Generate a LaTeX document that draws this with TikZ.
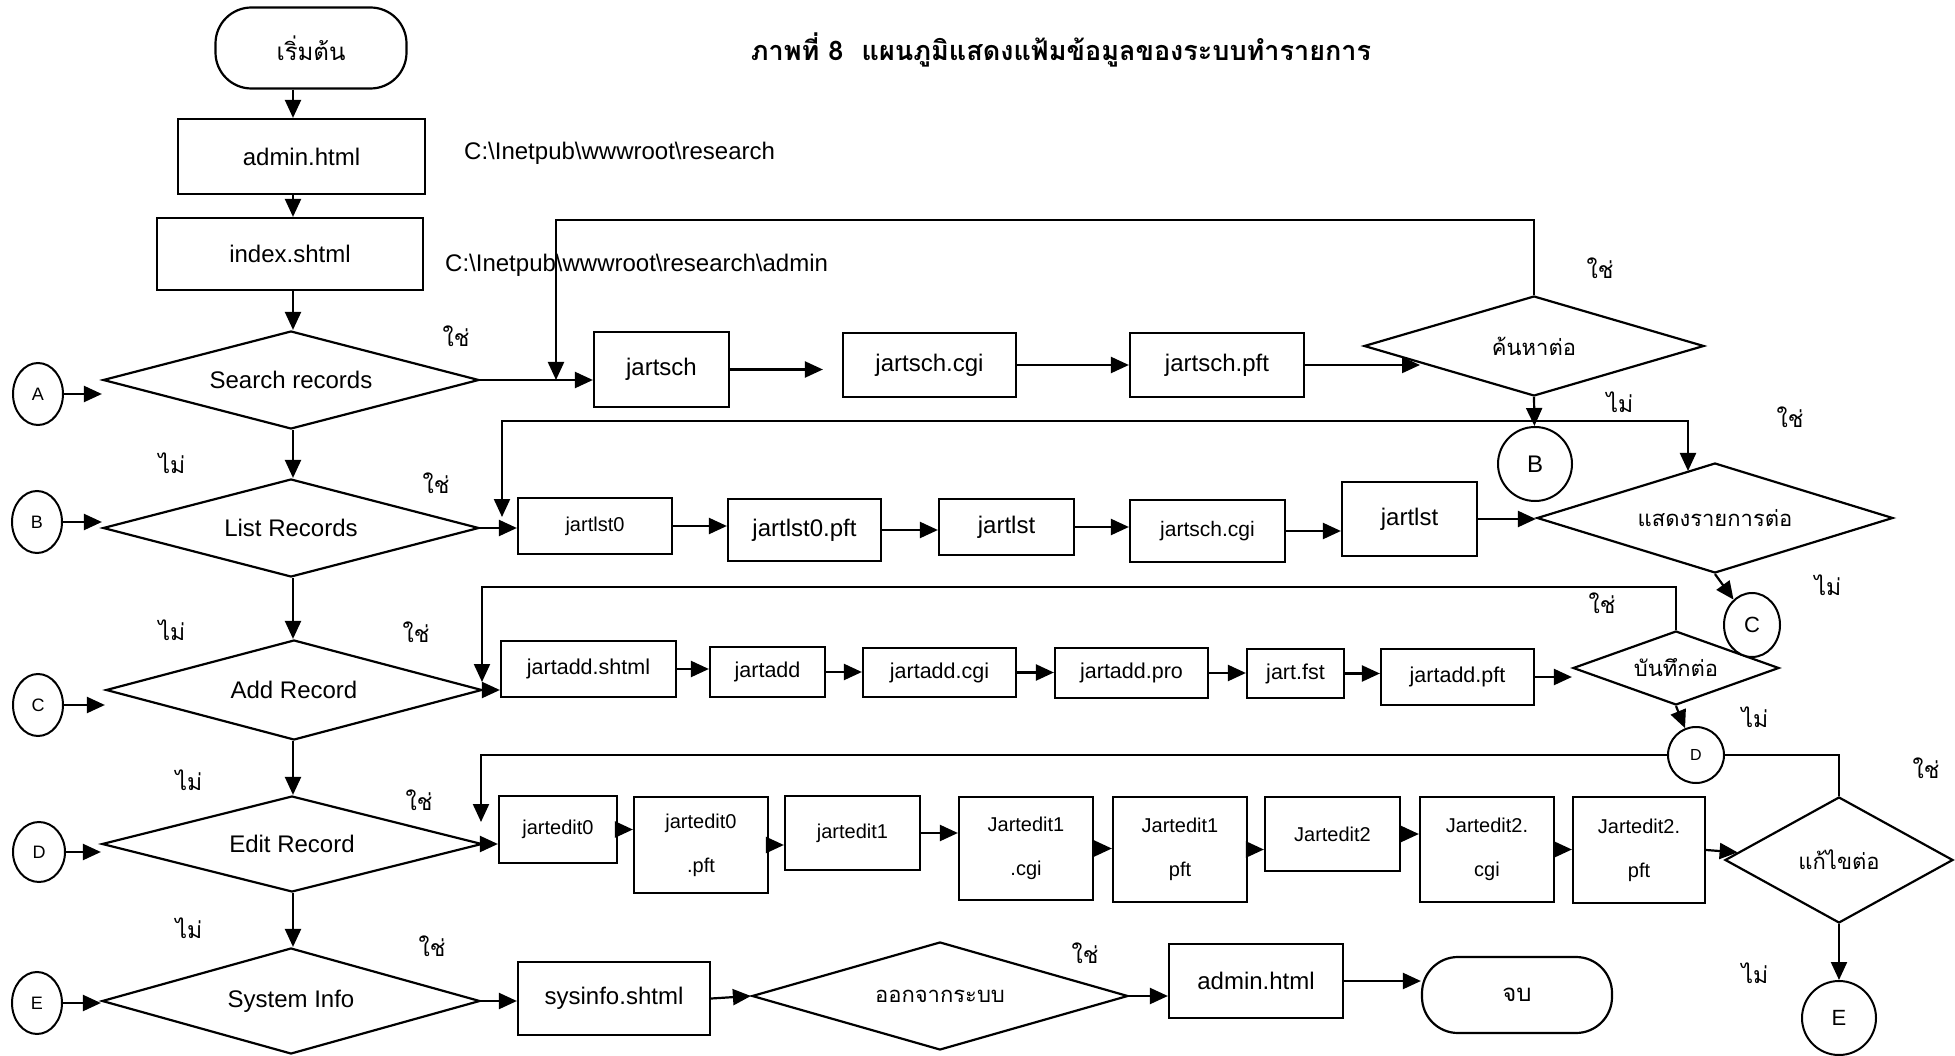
\documentclass[tikz,border=0pt]{standalone}
\usepackage{fontspec}
\setmainfont{Liberation Sans}
\newfontfamily\thai[Script=Thai]{Loma}
\usetikzlibrary{shapes.geometric,arrows.meta}
\newcommand\mkbox[7][]{%
  \pgfmathsetmacro\mbcx{(#3+#5)/2}%
  \pgfmathsetmacro\mbcy{(#4+#6)/2}%
  \pgfmathsetmacro\mbw{#5-#3}%
  \pgfmathsetmacro\mbh{#6-#4}%
  \node[filebox,minimum width=\mbw pt,minimum height=\mbh pt,#1] (#2) at (\mbcx,\mbcy) {#7};}
\begin{document}
\begin{tikzpicture}[x=1pt,y=-1pt,
  every node/.style={font=\fontsize{24}{28}\selectfont},
  filebox/.style={draw,line width=2.2pt,rectangle,inner sep=0pt},
  rowc/.style={font=\fontsize{21.5}{26}\selectfont},
  rowd/.style={font=\fontsize{20}{44}\selectfont,align=center},
  term/.style={draw,line width=2.2pt,rectangle,rounded corners=36pt,inner sep=0pt,font=\thai\fontsize{24}{28}\selectfont},
  dia/.style={draw,line width=2.2pt,diamond,inner sep=0pt},
  circ/.style={draw,line width=2pt,ellipse,inner sep=0pt,fill=white},
  lab/.style={font=\thai\fontsize{23}{26}\selectfont,inner sep=0pt},
  ttx/.style={font=\thai\fontsize{22}{26}\selectfont},
  arr/.style={line width=2.2pt,-{Triangle[length=18pt,width=16pt]}},
  arrb/.style={line width=2.2pt,{Triangle[length=18pt,width=16pt]}-{Triangle[length=18pt,width=16pt]}}]
\useasboundingbox (0,0) rectangle (1955,1056);

% title and paths
\node[font=\thai\bfseries\fontsize{27}{30}\selectfont] (title) at (1061,50) {ภาพที่ 8\ \ แผนภูมิแสดงแฟ้มข้อมูลของระบบทำรายการ};
\node[anchor=west,inner sep=0pt] (p1) at (464,153) {C:\textbackslash Inetpub\textbackslash wwwroot\textbackslash research};
\node[anchor=west,inner sep=0pt] (p2) at (445,265) {C:\textbackslash Inetpub\textbackslash wwwroot\textbackslash research\textbackslash admin};

% left column
\node[term,minimum width=191pt,minimum height=81pt] (start) at (311,48) {เริ่มต้น};
\mkbox{admin1}{178}{119}{425}{194}{admin.html}
\mkbox{index}{157}{218}{423}{290}{index.shtml}
\node[dia,aspect=3.8,minimum width=376pt,minimum height=98pt] (search) at (291,380) {Search records};
\node[dia,aspect=3.8,minimum width=376pt,minimum height=98pt] (list) at (291,528) {List Records};
\node[dia,aspect=3.8,minimum width=376pt,minimum height=100pt] (add) at (294,690) {Add Record};
\node[dia,aspect=3.8,minimum width=380pt,minimum height=96pt] (edit) at (292,844) {Edit Record};
\node[dia,aspect=3.6,minimum width=378pt,minimum height=106pt] (sys) at (291,1001) {System Info};

\node[circ,minimum width=50pt,minimum height=62pt,font=\fontsize{18}{20}\selectfont] (cA) at (38,394) {A};
\node[circ,minimum width=50pt,minimum height=62pt,font=\fontsize{18}{20}\selectfont] (cB) at (37,522) {B};
\node[circ,minimum width=50pt,minimum height=62pt,font=\fontsize{18}{20}\selectfont] (cC) at (38,705) {C};
\node[circ,minimum width=52pt,minimum height=60pt,font=\fontsize{18}{20}\selectfont] (cD) at (39,852) {D};
\node[circ,minimum width=50pt,minimum height=62pt,font=\fontsize{18}{20}\selectfont] (cE) at (37,1003) {E};

\coordinate (colx) at (293,0);
\draw[arr] (start.south -| colx) -- (admin1.north -| colx);
\draw[arr] (admin1.south -| colx) -- (index.north -| colx);
\draw[arr] (index.south -| colx) -- (search.north -| colx);
\draw[arr] (search.south -| colx) -- (list.north -| colx);
\draw[arr] (list.south -| colx) -- (add.north -| colx);
\draw[arr] (add.south -| colx) -- (edit.north -| colx);
\draw[arr] (edit.south -| colx) -- (sys.north -| colx);
\draw[arr] (cA) -- (cA -| search.west);
\draw[arr] (cB) -- (cB -| list.west);
\draw[arr] (cC) -- (cC -| add.west);
\draw[arr] (cD) -- (cD -| edit.west);
\draw[arr] (cE) -- (cE -| sys.west);

% row A
\mkbox{jsch}{594}{332}{729}{407}{jartsch}
\mkbox{jsc}{843}{333}{1016}{397}{jartsch.cgi}
\mkbox{jpft}{1130}{333}{1304}{397}{jartsch.pft}
\node[dia,aspect=3.4,minimum width=340pt,minimum height=100pt,ttx] (srch) at (1534,346) {ค้นหาต่อ};
\node[circ,minimum width=74pt,minimum height=74pt,font=\fontsize{24}{28}\selectfont] (cBr) at (1535,464) {B};
\coordinate (lpA) at (556,220);
\coordinate (pA) at (1420,365);
\draw[arr] (srch.north) |- (lpA) -- (lpA |- search.east);
\draw[arr] (search.east) -- (search.east -| jsch.west);
\draw[arr,shorten >=19pt] (jsch.east) -- (jsch.east -| jsc.west);
\draw[arr] (jsc.east) -- (jsc.east -| jpft.west);
\draw[arr] (jpft.east) -- (pA);

% row B
\mkbox[font=\fontsize{20}{24}\selectfont]{jl0}{518}{498}{672}{554}{jartlst0}
\mkbox{jl0p}{728}{499}{881}{561}{jartlst0.pft}
\mkbox{jl}{939}{499}{1074}{555}{jartlst}
\mkbox[font=\fontsize{21}{24}\selectfont]{jscB}{1130}{500}{1285}{562}{jartsch.cgi}
\mkbox{jl2}{1342}{482}{1477}{556}{jartlst}
\node[dia,aspect=3.2,minimum width=356pt,minimum height=110pt,ttx] (dsl) at (1715,518) {แสดงรายการต่อ};
\coordinate (lbS) at (502,517);
\coordinate (lbT) at (1688,421);
\coordinate (lbE) at (1688,471);
\draw[arrb] (lbS) |- (lbT) -- (lbE);
\draw[arr] (srch.south) -- (cBr);
\draw[arr] (list.east) -- (list.east -| jl0.west);
\draw[arr] (jl0.east) -- (jl0.east -| jl0p.west);
\draw[arr] (jl0p.east) -- (jl0p.east -| jl.west);
\draw[arr] (jl.east) -- (jl.east -| jscB.west);
\draw[arr] (jscB.east) -- (jscB.east -| jl2.west);
\draw[arr] (jl2.east) -- (jl2.east -| dsl.west);

% row C
\mkbox[rowc]{jas}{501}{641}{676}{697}{jartadd.shtml}
\mkbox[rowc]{jad}{710}{647}{825}{697}{jartadd}
\mkbox[rowc]{jac}{863}{648}{1016}{697}{jartadd.cgi}
\mkbox[rowc]{jap}{1055}{648}{1208}{698}{jartadd.pro}
\mkbox[rowc]{jfs}{1247}{649}{1344}{698}{jart.fst}
\mkbox[rowc]{japft}{1381}{649}{1534}{705}{jartadd.pft}
\node[dia,aspect=2.8,minimum width=206pt,minimum height=74pt,ttx] (dbt) at (1676,668) {บันทึกต่อ};
\node[circ,minimum width=56pt,minimum height=64pt,font=\fontsize{22}{26}\selectfont] (cCr) at (1752,625) {C};
\draw[arr] (dsl.south) -- (cCr);
\coordinate (lcT) at (482,587);
\coordinate (lcE) at (482,682);
\draw[arr] (dbt.north) |- (lcT) -- (lcE);
\draw[arr] (add.east) -- (add.east -| jas.west);
\draw[arr] (jas.east) -- (jas.east -| jad.west);
\draw[arr] (jad.east) -- (jad.east -| jac.west);
\draw[arr] (jac.east) -- (jac.east -| jap.west);
\draw[arr] (jap.east) -- (jap.east -| jfs.west);
\draw[arr] (jfs.east) -- (jfs.east -| japft.west);
\draw[arr] (japft.east) -- (japft.east -| dbt.west);

% row D
\mkbox[rowd]{je0}{499}{796}{617}{863}{jartedit0}
\mkbox[rowd]{je0p}{634}{797}{768}{893}{jartedit0\\.pft}
\mkbox[rowd]{je1}{785}{796}{920}{870}{jartedit1}
\mkbox[rowd]{je1c}{959}{797}{1093}{900}{Jartedit1\\.cgi}
\mkbox[rowd]{je1p}{1113}{797}{1247}{902}{Jartedit1\\pft}
\mkbox[rowd]{je2}{1265}{797}{1400}{871}{Jartedit2}
\mkbox[rowd]{je2c}{1420}{797}{1554}{902}{Jartedit2.\\cgi}
\mkbox[rowd]{je2p}{1573}{797}{1705}{903}{Jartedit2.\\pft}
\node[dia,aspect=1.8,minimum width=228pt,minimum height=126pt,ttx] (dek) at (1839,860) {แก้ไขต่อ};
\coordinate (ldT) at (481,755);
\coordinate (ldE) at (481,822);
\draw[arr] (dek.north) |- (ldT) -- (ldE);
\node[circ,minimum width=56pt,minimum height=56pt,font=\fontsize{16}{20}\selectfont] (cDr) at (1696,755) {D};
\node[circ,minimum width=74pt,minimum height=74pt,font=\fontsize{22}{26}\selectfont] (cEr) at (1839,1018) {E};
\draw[arr] (dbt.south) -- (cDr);
\draw[arr] (edit.east) -- (edit.east -| je0.west);
\draw[arr] (je0.east) -- (je0.east -| je0p.west);
\draw[arr] (je0p.east) -- (je0p.east -| je1.west);
\draw[arr] (je1.east) -- (je1.east -| je1c.west);
\draw[arr] (je1c.east) -- (je1c.east -| je1p.west);
\draw[arr] (je1p.east) -- (je1p.east -| je2.west);
\draw[arr] (je2.east) -- (je2.east -| je2c.west);
\draw[arr] (je2c.east) -- (je2c.east -| je2p.west);
\draw[arr] (je2p.east) -- (dek);
\draw[arr] (dek.south) -- (cEr);

% row E
\mkbox{sysi}{518}{962}{710}{1035}{sysinfo.shtml}
\node[dia,aspect=3.5,minimum width=376pt,minimum height=108pt,ttx] (dout) at (940,996) {ออกจากระบบ};
\mkbox{admin2}{1169}{944}{1343}{1018}{admin.html}
\node[term,minimum width=190pt,minimum height=76pt] (fin) at (1517,995) {จบ};
\draw[arr] (sys.east) -- (sys.east -| sysi.west);
\draw[arr] (sysi.east) -- (dout.west);
\draw[arr] (dout.east) -- (dout.east -| admin2.west);
\draw[arr] (admin2.east) -- (admin2.east -| fin.west);

% yes / no labels
\node[lab] (y1) at (456,336) {ใช่};
\node[lab] (n1) at (172,463) {ไม่};
\node[lab] (y2) at (436,483) {ใช่};
\node[lab] (n2) at (172,630) {ไม่};
\node[lab] (y3) at (416,632) {ใช่};
\node[lab] (n3) at (189,780) {ไม่};
\node[lab] (y4) at (419,800) {ใช่};
\node[lab] (n4) at (189,928) {ไม่};
\node[lab] (y5) at (432,946) {ใช่};
\node[lab] (y6) at (1600,268) {ใช่};
\node[lab] (n6) at (1620,402) {ไม่};
\node[lab] (y7) at (1790,417) {ใช่};
\node[lab] (n7) at (1828,585) {ไม่};
\node[lab] (y8) at (1602,603) {ใช่};
\node[lab] (n8) at (1755,717) {ไม่};
\node[lab] (y9) at (1926,768) {ใช่};
\node[lab] (n9) at (1755,973) {ไม่};
\node[lab] (y10) at (1085,953) {ใช่};
\end{tikzpicture}
\end{document}
